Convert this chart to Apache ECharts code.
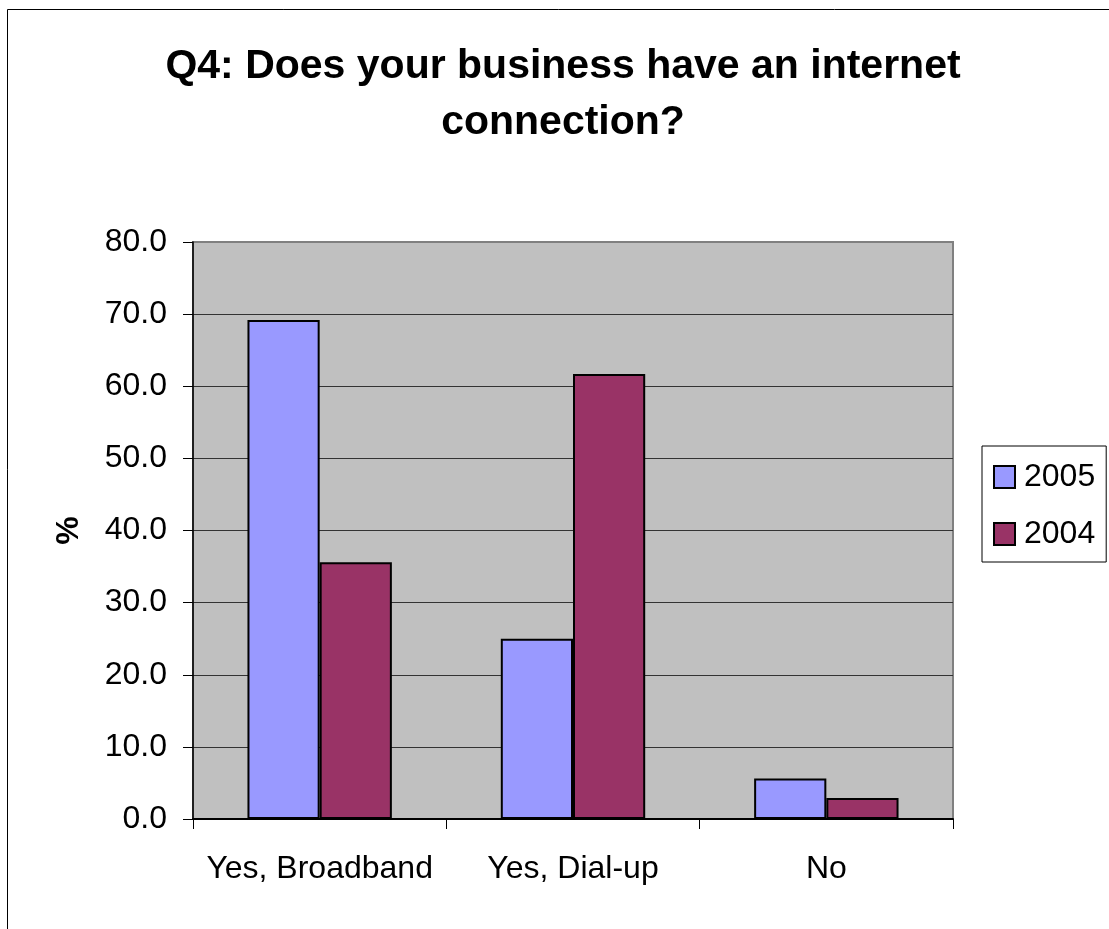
<!DOCTYPE html>
<html>
<head>
<meta charset="utf-8">
<style>
  html, body { margin: 0; padding: 0; background: #ffffff; }
  #chart { width: 1109px; height: 929px; }
</style>
<script src="https://cdn.jsdelivr.net/npm/echarts@6/dist/echarts.min.js"></script>
</head>
<body>
<div id="chart"></div>
<script>
// Survey answers (percent of businesses)
const categories = ['Yes, Broadband', 'Yes, Dial-up', 'No'];
const values2005 = [69.2, 25.0, 5.6];
const values2004 = [35.6, 61.7, 2.9];
const seriesNames = ['2005', '2004'];
const titleText = 'Q4: Does your business have an internet\nconnection?';

const FONT = '"Liberation Sans", Arial, Helvetica, sans-serif';

const chart = echarts.init(document.getElementById('chart'), null, { renderer: 'canvas' });

chart.setOption({
  animation: false,
  backgroundColor: '#ffffff',
  textStyle: { fontFamily: FONT },
  graphic: [
    {
      type: 'rect',
      silent: true,
      shape: { x: 7.5, y: 9.5, width: 1300, height: 1100 },
      style: { fill: 'none', stroke: '#000000', lineWidth: 1 },
      z: -10
    },
    {
      type: 'text',
      silent: true,
      x: 563,
      y: 39,
      style: {
        text: titleText,
        fontFamily: FONT,
        fontSize: 41,
        fontWeight: 'bold',
        lineHeight: 56,
        align: 'center',
        verticalAlign: 'top',
        fill: '#000000'
      }
    }
  ],
  legend: {
    orient: 'vertical',
    left: 982,
    top: 446,
    padding: [15, 11, 12, 11],
    itemGap: 25,
    itemWidth: 21,
    itemHeight: 22,
    icon: 'rect',
    backgroundColor: '#ffffff',
    borderColor: '#000000',
    borderWidth: 1,
    borderRadius: 0,
    textStyle: { fontSize: 32, color: '#000000', fontFamily: FONT, padding: [0, 0, 0, 4] },
    data: seriesNames
  },
  grid: {
    left: 193,
    right: 156,
    top: 242,
    bottom: 110,
    show: true,
    backgroundColor: '#C0C0C0',
    borderColor: '#808080',
    borderWidth: 2
  },
  xAxis: {
    type: 'category',
    data: categories,
    boundaryGap: true,
    axisLine: { show: true, lineStyle: { color: '#000000', width: 2 } },
    axisTick: { show: true, length: 10, alignWithLabel: false, lineStyle: { color: '#000000', width: 1 } },
    axisLabel: { fontSize: 32, color: '#000000', margin: 34, interval: 0, fontFamily: FONT },
    splitLine: { show: false }
  },
  yAxis: {
    type: 'value',
    min: 0,
    max: 80,
    interval: 10,
    name: '%',
    nameLocation: 'middle',
    nameGap: 108,
    nameTextStyle: { fontSize: 32, fontWeight: 'bold', color: '#000000', fontFamily: FONT },
    axisLine: { show: true, lineStyle: { color: '#000000', width: 1.5 } },
    axisTick: { show: true, length: 10, inside: false, lineStyle: { color: '#000000', width: 1 } },
    axisLabel: {
      fontSize: 32,
      color: '#000000',
      margin: 26,
      fontFamily: FONT,
      formatter: function (v) { return v.toFixed(1); }
    },
    splitLine: { show: true, showMaxLine: false, lineStyle: { color: '#333333', width: 1 } }
  },
  series: [
    {
      name: seriesNames[0],
      type: 'bar',
      data: values2005,
      barGap: '0%',
      barCategoryGap: '43%',
      itemStyle: { color: '#9999FF', borderColor: '#000000', borderWidth: 2 }
    },
    {
      name: seriesNames[1],
      type: 'bar',
      data: values2004,
      barGap: '0%',
      barCategoryGap: '43%',
      itemStyle: { color: '#993366', borderColor: '#000000', borderWidth: 2 }
    }
  ]
});
</script>
</body>
</html>
